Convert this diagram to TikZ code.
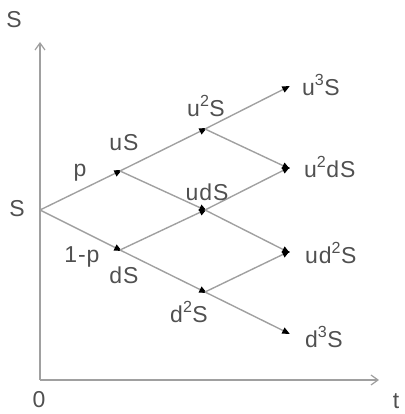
\documentclass[tikz,border=0pt]{standalone}
\usepackage{fontspec}
\setmainfont{Liberation Sans}
\newfontfamily\lblfont[LetterSpace=4]{Liberation Sans}
\usetikzlibrary{arrows.meta}
\definecolor{linegray}{HTML}{A0A0A0}
\definecolor{textgray}{HTML}{505050}
\tikzset{
  edge/.style={draw=linegray, line width=1.4pt, -{Triangle[length=7.5pt,width=6.5pt,color=black]}, shorten >=-2pt},
  axis/.style={draw=linegray, line width=1.2pt, -{Straight Barb[length=7pt,width=10pt]}},
  lbl/.style={text=textgray, font=\lblfont\fontsize{23}{25}\selectfont, inner sep=0pt}
}
\begin{document}
\begin{tikzpicture}[x=1pt,y=1pt]
\useasboundingbox (0,0) rectangle (404,414);
% axes
\coordinate (O) at (40,34);
\coordinate (Ytop) at (40,372);
\coordinate (Xend) at (379,34);
\draw[axis] (O) -- (Ytop);
\draw[axis] (O) -- (Xend);
% tree points
\coordinate (S0) at (40,204);
\coordinate (uS) at (120,243);
\coordinate (dS) at (120,164);
\coordinate (u2S) at (205,285);
\coordinate (udS) at (205,204);
\coordinate (d2S) at (205,122);
\coordinate (u3S) at (288,327);
\coordinate (u2dS) at (288,246);
\coordinate (ud2S) at (288,162);
\coordinate (d3S) at (288,81);
% edges
\draw[edge] (S0) -- (uS);
\draw[edge] (S0) -- (dS);
\draw[edge] (uS) -- (u2S);
\draw[edge] (uS) -- (udS);
\draw[edge] (dS) -- (udS);
\draw[edge] (dS) -- (d2S);
\draw[edge] (u2S) -- (u3S);
\draw[edge] (u2S) -- (u2dS);
\draw[edge] (udS) -- (u2dS);
\draw[edge] (udS) -- (ud2S);
\draw[edge] (d2S) -- (ud2S);
\draw[edge] (d2S) -- (d3S);
% labels
\node[lbl] (lS0) at (17,205) {S};
\node[lbl] (luS) at (124,271) {uS};
\node[lbl] (lp) at (80,241) {p};
\node[lbl] (lu2S) at (206,308) {u\textsuperscript{2}S};
\node[lbl] (ludS) at (207,222) {udS};
\node[lbl] (l1p) at (82,157) {1-p};
\node[lbl] (ldS) at (124,139) {dS};
\node[lbl] (ld2S) at (189,102) {d\textsuperscript{2}S};
\node[lbl, anchor=west] (lu3S) at (302,329) {u\textsuperscript{3}S};
\node[lbl, anchor=west] (lu2dS) at (304,247) {u\textsuperscript{2}dS};
\node[lbl, anchor=west] (lud2S) at (305,161) {ud\textsuperscript{2}S};
\node[lbl, anchor=west] (ld3S) at (305,77) {d\textsuperscript{3}S};
\node[lbl] (laxS) at (14,394) {S};
\node[lbl] (l0) at (39,14) {0};
\node[lbl] (lt) at (396,13) {t};
\end{tikzpicture}
\end{document}
